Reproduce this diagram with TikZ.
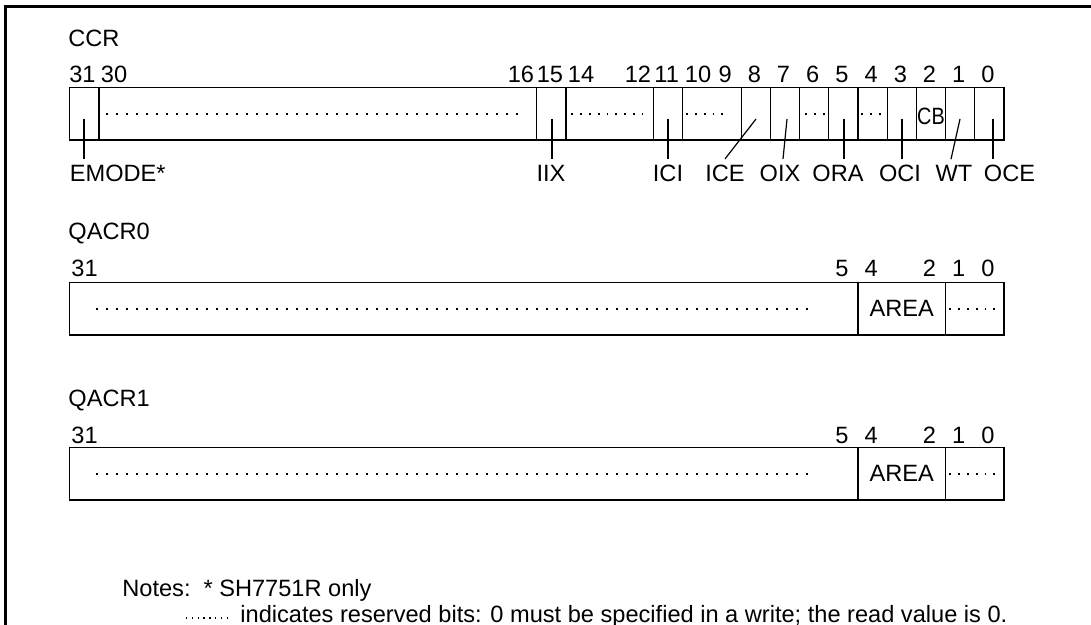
\documentclass[tikz,border=0pt]{standalone}
\usepackage{fontspec}
\setmainfont{Liberation Sans}
\newfontfamily\narrowfont[FakeStretch=0.84]{Liberation Sans}
\usetikzlibrary{positioning, fit, calc}

\begin{document}
\begin{tikzpicture}[x=0.5pt, y=-0.5pt,
    every node/.style={font=\fontsize{11.8}{13}\selectfont},
    field/.style={draw, line width=0.6pt, inner sep=0pt},
    bitnum/.style={inner sep=0pt, anchor=base},
    fname/.style={inner xsep=0pt, inner ysep=3.1pt, anchor=base},
    title/.style={inner sep=0pt, anchor=base west},
    leader/.style={line width=0.6pt},
    resv/.style={line width=0.9pt, dash pattern=on 0.9pt off 3.5pt},
    resvwide/.style={line width=0.9pt, dash pattern=on 0.9pt off 4.1pt},
    notedots/.style={line width=0.7pt, dash pattern=on 0.7pt off 2.2pt}]

    \useasboundingbox (0,0) rectangle (1091,625);

    % Frame
    \draw[line width=1.25pt] (5.5,625) -- (5.5,6.5) -- (1091,6.5);

    % CCR
    \node[title] (tccr) at (68,47) {CCR};

    \node[field, fit={(69.5,87.5) (99,140)}] (c31) {};
    \node[field, fit={(99,87.5) (536.8,140)}] (c3016) {};
    \node[field, fit={(536.8,87.5) (566,140)}] (c15) {};
    \node[field, fit={(566,87.5) (653.6,140)}] (c1412) {};
    \node[field, fit={(653.6,87.5) (682.8,140)}] (c11) {};
    \node[field, fit={(682.8,87.5) (741.2,140)}] (c109) {};
    \foreach \b in {0,...,8}
      \node[field, fit={({1004-(\b+1)*29.2},87.5) ({1004-\b*29.2},140)}] (c\b) {};

    \node[font={\fontsize{11.8}{13}\narrowfont}] (cb) at ([yshift=-1.1pt]c2.center) {CB};

    % reserved bits
    \draw[resvwide] ([xshift=4pt]c3016.west) -- ([xshift=-6.6pt]c3016.east);
    \draw[resv] ([xshift=3pt]c1412.west) -- ([xshift=-5.8pt]c1412.east);
    \draw[resv] ([xshift=2pt]c109.west) -- ([xshift=-6pt]c109.east);
    \draw[resv] ([xshift=3.1pt]c6.west) -- ([xshift=-2pt]c6.east);
    \draw[resv] ([xshift=1.9pt]c4.west) -- ([xshift=-3pt]c4.east);

    % bit numbers
    \node[bitnum] (n31) at (82.5,83) {31};
    \node[bitnum, anchor=base west] (n30) at (100.5,83) {30};
    \node[bitnum, anchor=base east] (n16) at (534.5,83) {16};
    \node[bitnum, anchor=base west] (n14) at (567.5,83) {14};
    \node[bitnum, anchor=base east] (n12) at (651.5,83) {12};
    \node[bitnum, anchor=base west] (n10) at (684.5,83) {10};
    \foreach \b in {0,...,9,11,15}
      \node[bitnum] (n\b) at ({1002.5-(\b+0.5)*29.2},83) {\b};

    % bit names
    \coordinate (pEMODE) at (84,119);
    \coordinate (pIIX) at (552,119);
    \coordinate (pICI) at (668,119);
    \coordinate (pICE) at (756,119);
    \coordinate (pOIX) at (787,119);
    \coordinate (pORA) at (844,119);
    \coordinate (pOCI) at (902,119);
    \coordinate (pWT) at (960,119);
    \coordinate (pOCE) at (993,119);

    \node[fname, anchor=base west] (lEMODE) at (69.5,182) {EMODE*};
    \node[fname] (lIIX) at (551,182) {IIX};
    \node[fname] (lICI) at (668,182) {ICI};
    \node[fname] (lICE) at (725,182) {ICE};
    \node[fname] (lOIX) at (780,182) {OIX};
    \node[fname] (lORA) at (838,182) {ORA};
    \node[fname] (lOCI) at (900,182) {OCI};
    \node[fname] (lWT) at (954,182) {WT};
    \node[fname] (lOCE) at (1009.5,182) {OCE};

    \draw[leader] (pEMODE) -- (pEMODE |- lEMODE.north);
    \draw[leader] (pIIX) -- (pIIX |- lIIX.north);
    \draw[leader] (pICI) -- (pICI |- lICI.north);
    \draw[leader] (pICE) -- (lICE.north);
    \draw[leader] (pOIX) -- ([xshift=1.5pt]lOIX.north);
    \draw[leader] (pORA) -- (pORA |- lORA.north);
    \draw[leader] (pOCI) -- (pOCI |- lOCI.north);
    \draw[leader] (pWT) -- ([xshift=-1.5pt]lWT.north);
    \draw[leader] (pOCE) -- (pOCE |- lOCE.north);

    % QACR0
    \node[title] (tqacr0) at (68,240) {QACR0};
    \node[field, fit={(69.5,282.7) (858,335)}] (q0a) {};
    \node[field, fit={(858,282.7) (945.6,335)}] (q0b) {};
    \node[field, fit={(945.6,282.7) (1004,335)}] (q0c) {};
    \node (area0) at (q0b.center) {AREA};
    \draw[resvwide] ([xshift=13.7pt]q0a.west) -- ([xshift=-23pt]q0a.east);
    \draw[resv] ([xshift=2.2pt]q0c.west) -- ([xshift=-3.7pt]q0c.east);

    \node[bitnum, anchor=base west] (q0n31) at (71,277) {31};
    \foreach \b in {0,1,2,4,5}
      \node[bitnum] (q0n\b) at ({1002.5-(\b+0.5)*29.2},277) {\b};

    % QACR1
    \node[title] (tqacr1) at (68,406) {QACR1};
    \node[field, fit={(69.5,447.7) (858,500)}] (q1a) {};
    \node[field, fit={(858,447.7) (945.6,500)}] (q1b) {};
    \node[field, fit={(945.6,447.7) (1004,500)}] (q1c) {};
    \node (area1) at (q1b.center) {AREA};
    \draw[resvwide] ([xshift=13.7pt]q1a.west) -- ([xshift=-23pt]q1a.east);
    \draw[resv] ([xshift=2.2pt]q1c.west) -- ([xshift=-3.7pt]q1c.east);

    \node[bitnum, anchor=base west] (q1n31) at (71,443) {31};
    \foreach \b in {0,1,2,4,5}
      \node[bitnum] (q1n\b) at ({1002.5-(\b+0.5)*29.2},443) {\b};

    % Notes
    \node[title] (notes) at (122,596) {Notes:\hspace{0.55em}* SH7751R only};
    \coordinate (rsvA) at (186,618);
    \coordinate (rsvB) at (232,618);
    \draw[notedots] (rsvA) -- (rsvB);
    \node[title] (notetext) at (240,622) {indicates reserved bits: 0 must be specified in a write; the read value is 0.};

\end{tikzpicture}
\end{document}
